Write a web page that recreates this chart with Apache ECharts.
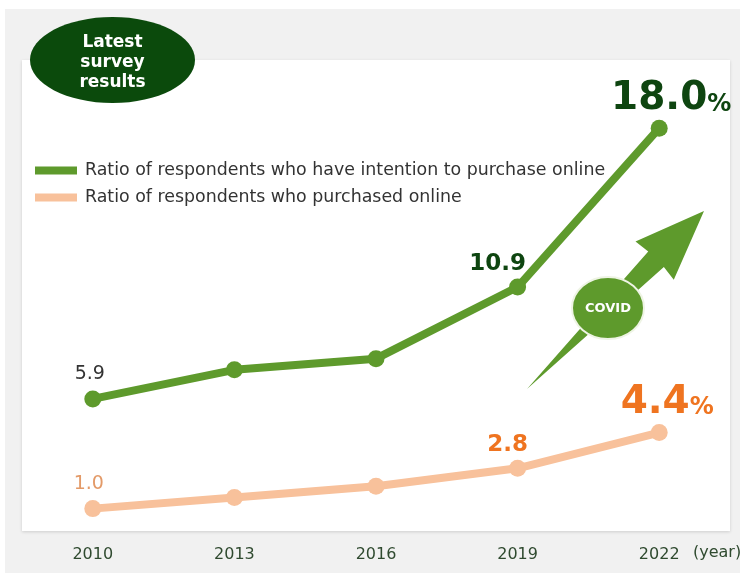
<!DOCTYPE html>
<html>
<head>
<meta charset="utf-8">
<script src="https://cdn.jsdelivr.net/npm/echarts@6/dist/echarts.min.js"></script>
<style>
  html, body { margin: 0; padding: 0; background: #ffffff; }
  #chart { width: 740px; height: 573px; }
</style>
</head>
<body>
<div id="chart"></div>
<script>
// Survey years and the two ratios (%)
const years = ['2010', '2013', '2016', '2019', '2022'];
const intentionRatio = [5.9, 7.2, 7.7, 10.9, 18.0];
const purchasedRatio = [1.0, 1.5, 2.0, 2.8, 4.4];
const seriesNames = [
  'Ratio of respondents who have intention to purchase online',
  'Ratio of respondents who purchased online'
];
const badgeText = 'Latest\nsurvey\nresults';
const axisUnit = '(year)';
const arrowText = 'COVID';

const GREEN = '#5e9a2c';
const DARK_GREEN = '#0e4510';
const PEACH = '#f8c19b';
const ORANGE = '#ef7420';

const chart = echarts.init(document.getElementById('chart'), null, { renderer: 'canvas' });

// Which points carry a value label, and how each label is styled
function labelFor(i, style) {
  return style[i] ? Object.assign({ show: true, position: 'top' }, style[i]) : { show: false };
}
const intentionLabelStyle = {
  0: { offset: [-3, -2], fontFamily: 'DejaVu Sans', fontSize: 19, color: '#333333' },
  3: { offset: [-20, 2], fontFamily: 'DejaVu Sans', fontWeight: 'bold', fontSize: 23, color: DARK_GREEN },
  4: { offset: [12, 4], rich: {
        n: { fontFamily: 'DejaVu Sans', fontWeight: 'bold', fontSize: 39, color: DARK_GREEN },
        p: { fontFamily: 'DejaVu Sans', fontWeight: 'bold', fontSize: 24, color: DARK_GREEN, verticalAlign: 'bottom', padding: [0, 0, 2, 0] }
      } }
};
const purchasedLabelStyle = {
  0: { offset: [-4, -2], fontFamily: 'DejaVu Sans', fontSize: 19, color: '#e39a68' },
  3: { offset: [-10, 2], fontFamily: 'DejaVu Sans', fontWeight: 'bold', fontSize: 23, color: ORANGE },
  4: { offset: [8, 3], rich: {
        n: { fontFamily: 'DejaVu Sans', fontWeight: 'bold', fontSize: 39, color: ORANGE },
        p: { fontFamily: 'DejaVu Sans', fontWeight: 'bold', fontSize: 24, color: ORANGE, verticalAlign: 'bottom', padding: [0, 0, 2, 0] }
      } }
};

function pointData(values, style) {
  const last = values.length - 1;
  return values.map((v, i) => ({
    value: v,
    label: Object.assign(labelFor(i, style), {
      formatter: p => i === last ? '{n|' + p.value.toFixed(1) + '}{p|%}' : p.value.toFixed(1)
    })
  }));
}

// COVID arrow: tapered shaft from tail to tip with a triangular head
function arrowPoints(tail, tip, shaftHalf, headLen, headHalf) {
  const dx = tip[0] - tail[0], dy = tip[1] - tail[1];
  const L = Math.hypot(dx, dy);
  const ux = dx / L, uy = dy / L, nx = -uy, ny = ux;
  const at = (t, w) => [tail[0] + ux * t + nx * w, tail[1] + uy * t + ny * w];
  const b = L - headLen;
  return [at(0, 0), at(b, shaftHalf), at(b - 2, headHalf), tip.slice(), at(b - 2, -headHalf), at(b, -shaftHalf), at(0, 0)];
}

const option = {
  animation: false,
  backgroundColor: '#ffffff',
  grid: { left: 22, right: 10, top: 61, bottom: 42, containLabel: false },
  legend: {
    orient: 'vertical',
    left: 30,
    top: 157,
    itemWidth: 42,
    itemHeight: 8,
    itemGap: 10,
    icon: 'rect',
    textStyle: { fontFamily: 'DejaVu Sans', fontSize: 17.4, color: '#333333', padding: [0, 0, 0, 3] },
    data: seriesNames
  },
  xAxis: {
    type: 'category',
    data: years,
    boundaryGap: true,
    axisLine: { show: false },
    axisTick: { show: false },
    axisLabel: { margin: 16, fontFamily: 'DejaVu Sans', fontSize: 16, color: '#2f4a2f' }
  },
  yAxis: {
    type: 'value',
    min: 0,
    max: 21,
    show: false,
    splitLine: { show: false }
  },
  series: [
    {
      name: seriesNames[0],
      type: 'line',
      data: pointData(intentionRatio, intentionLabelStyle),
      symbol: 'circle',
      symbolSize: 17,
      lineStyle: { color: GREEN, width: 8 },
      itemStyle: { color: GREEN },
      z: 5
    },
    {
      name: seriesNames[1],
      type: 'line',
      data: pointData(purchasedRatio, purchasedLabelStyle),
      symbol: 'circle',
      symbolSize: 17,
      lineStyle: { color: PEACH, width: 8 },
      itemStyle: { color: PEACH },
      z: 4
    }
  ],
  graphic: [
    // page backdrop and white plotting panel
    { type: 'rect', z: -20, silent: true, shape: { x: 5, y: 9, width: 735, height: 564 }, style: { fill: '#f1f1f1' } },
    { type: 'rect', z: -10, silent: true, shape: { x: 22, y: 60, width: 708, height: 471 },
      style: { fill: '#ffffff', shadowBlur: 3, shadowOffsetY: 1, shadowColor: 'rgba(0,0,0,0.15)' } },
    // badge
    { type: 'ellipse', z: 100, shape: { cx: 112.5, cy: 60, rx: 82.5, ry: 43 },
      style: { fill: '#0b4a0c' } },
    { type: 'text', z: 101, x: 112.5, y: 63,
      style: { text: badgeText, fill: '#ffffff', fontFamily: 'DejaVu Sans', fontWeight: 'bold', fontSize: 17,
               lineHeight: 20, align: 'center', verticalAlign: 'middle' } },
    // axis unit
    { type: 'text', z: 50, x: 693, y: 553,
      style: { text: axisUnit, fill: '#2f4a2f', fontFamily: 'DejaVu Sans', fontSize: 16, verticalAlign: 'middle' } },
    // COVID arrow
    { type: 'polygon', z: 60, shape: { points: arrowPoints([527, 389], [704, 211], 11, 68, 27) },
      style: { fill: GREEN } },
    { type: 'ellipse', z: 61, shape: { cx: 608, cy: 308, rx: 36, ry: 31 },
      style: { fill: GREEN, stroke: '#eef4e4', lineWidth: 2 } },
    { type: 'text', z: 62, x: 608, y: 309,
      style: { text: arrowText, fill: '#ffffff', fontFamily: 'DejaVu Sans', fontWeight: 'bold', fontSize: 13,
               align: 'center', verticalAlign: 'middle' } }
  ]
};

chart.setOption(option);
</script>
</body>
</html>
